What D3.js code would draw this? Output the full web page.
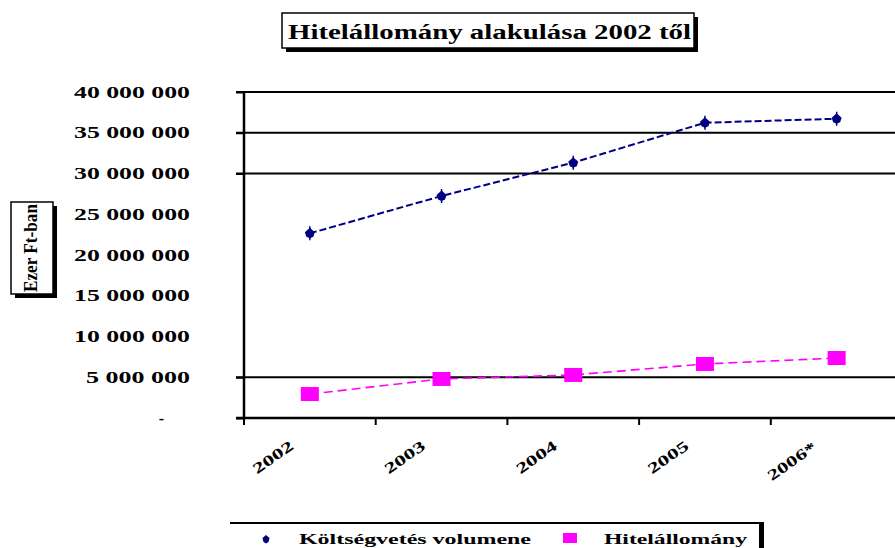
<!DOCTYPE html>
<html>
<head>
<meta charset="utf-8">
<script src="https://cdn.jsdelivr.net/npm/d3@7/dist/d3.min.js"></script>
<style>
  html, body { margin: 0; padding: 0; background: #fff; }
  svg { display: block; }
  text { font-family: "Liberation Serif", "Times New Roman", serif; font-weight: bold; fill: #000; }
</style>
</head>
<body>
<svg id="chart" width="895" height="548"></svg>
<script>
// ---- data ----
const categories = ["2002", "2003", "2004", "2005", "2006*"];
const koltsegvetes = [22660000, 27240000, 31330000, 36230000, 36720000];
const hitelallomany = [2940000, 4790000, 5280000, 6630000, 7360000];
const yTickValues = [0, 5000000, 10000000, 15000000, 20000000, 25000000, 30000000, 35000000, 40000000];
const yTickLabels = ["-", "5 000 000", "10 000 000", "15 000 000", "20 000 000", "25 000 000", "30 000 000", "35 000 000", "40 000 000"];
const gridValues = [5000000, 30000000, 35000000, 40000000];
const seriesNames = ["Költségvetés volumene", "Hitelállomány"];
const titleText = "Hitelállomány alakulása 2002 től";
const yTitle = "Ezer Ft-ban";

// ---- layout ----
const svg = d3.select("#chart");
svg.append("rect").attr("width", 895).attr("height", 548).attr("fill", "#fff");

const x = d3.scaleBand().domain(categories).range([244, 902.5]).padding(0);
const y = d3.scaleLinear().domain([0, 40000000]).range([418, 92]);

// gridlines
svg.append("g").selectAll("line").data(gridValues).join("line")
  .attr("x1", 236).attr("x2", 895)
  .attr("y1", d => y(d)).attr("y2", d => y(d))
  .attr("stroke", "#000").attr("stroke-width", 2);

// y axis line and ticks
const yAxis = d3.axisLeft(y).tickValues([0, 5000000, 30000000, 35000000, 40000000]).tickSize(8).tickFormat("");
const yg = svg.append("g").attr("transform", "translate(244,0)").call(yAxis);
yg.select(".domain").attr("stroke", "#000").attr("stroke-width", 2.5).attr("d", "M0,92V418");
yg.selectAll(".tick line").attr("stroke", "#000").attr("stroke-width", 2);

// y tick labels
svg.append("g").selectAll("text").data(yTickValues).join("text")
  .attr("x", (d, i) => i === 0 ? 164 : 190)
  .attr("y", d => y(d))
  .attr("dy", "0.35em")
  .attr("text-anchor", "end")
  .attr("font-size", 16)
  .attr("textLength", (d, i) => {
    const s = yTickLabels[i];
    if (s === "-") return null;
    const digits = s.replace(/ /g, "").length;
    const spaces = s.length - digits;
    return digits * 12 + spaces * 10;
  })
  .attr("lengthAdjust", "spacingAndGlyphs")
  .text((d, i) => yTickLabels[i]);

// x axis
const xAxis = d3.axisBottom(x).tickSize(0).tickFormat("");
const xg = svg.append("g").attr("transform", "translate(0,418)").call(xAxis);
xg.select(".domain").attr("stroke", "#000").attr("stroke-width", 2.5).attr("d", "M236,0H895");
const boundaries = categories.map(c => x(c));
svg.append("g").selectAll("line").data(boundaries).join("line")
  .attr("x1", d => d).attr("x2", d => d).attr("y1", 418).attr("y2", 425)
  .attr("stroke", "#000").attr("stroke-width", 2);

// x labels rotated
svg.append("g").selectAll("text").data(categories).join("text")
  .attr("transform", d => `translate(${x(d) + x.bandwidth() / 2 - (d.length > 4 ? 45 : 37)},${d.length > 4 ? 461 : 457}) rotate(-35)`)
  .attr("text-anchor", "middle")
  .attr("dy", "0.35em")
  .attr("font-size", 15)
  .attr("textLength", d => d.length > 4 ? 56 : 46)
  .attr("lengthAdjust", "spacingAndGlyphs")
  .text(d => d);

// lines
const cx = d => x(d) + x.bandwidth() / 2;
const blueData = categories.map((c, i) => [cx(c), y(koltsegvetes[i])]);
const pinkData = categories.map((c, i) => [cx(c), y(hitelallomany[i])]);
const line = d3.line();

svg.append("path").attr("d", line(blueData))
  .attr("fill", "none").attr("stroke", "#000080").attr("stroke-width", 2)
  .attr("stroke-dasharray", "7,3");
svg.append("path").attr("d", line(pinkData))
  .attr("fill", "none").attr("stroke", "#FF00FF").attr("stroke-width", 1.6)
  .attr("stroke-dasharray", "9,5");

// blue markers: rounded diamond blob with small stem
const blobG = svg.append("g").selectAll("g").data(blueData).join("g")
  .attr("transform", d => `translate(${d[0]},${d[1]})`);
blobG.append("path").attr("d", "M0,-5.5 L5,-1 L3.5,3.5 L0,5 L-3.5,3.5 L-5,-1 Z").attr("fill", "#000080");
blobG.append("line").attr("x1", 0).attr("x2", 0).attr("y1", -7).attr("y2", 7)
  .attr("stroke", "#000080").attr("stroke-width", 1.5);

svg.append("g").selectAll("rect").data(pinkData).join("rect")
  .attr("x", d => d[0] - 9).attr("y", d => d[1] - 7)
  .attr("width", 18).attr("height", 14)
  .attr("fill", "#FF00FF");

// title box
const tb = svg.append("g");
tb.append("rect").attr("x", 286).attr("y", 17).attr("width", 412).attr("height", 35).attr("fill", "#000");
tb.append("rect").attr("x", 282).attr("y", 13).attr("width", 412).attr("height", 35)
  .attr("fill", "#fff").attr("stroke", "#000").attr("stroke-width", 1.5);
tb.append("text").attr("x", 288).attr("y", 39).attr("font-size", 20)
  .attr("textLength", 403).attr("lengthAdjust", "spacingAndGlyphs")
  .text(titleText);

// y title box
const yb = svg.append("g");
yb.append("rect").attr("x", 15).attr("y", 206).attr("width", 42).attr("height", 92).attr("fill", "#000");
yb.append("rect").attr("x", 11).attr("y", 202).attr("width", 42).attr("height", 92)
  .attr("fill", "#fff").attr("stroke", "#000").attr("stroke-width", 1.5);
yb.append("text").attr("transform", "translate(37,248) rotate(-90)")
  .attr("text-anchor", "middle").attr("font-size", 19)
  .attr("textLength", 88).attr("lengthAdjust", "spacingAndGlyphs")
  .text(yTitle);

// legend
const lg = svg.append("g");
lg.append("line").attr("x1", 230).attr("x2", 763).attr("y1", 523).attr("y2", 523)
  .attr("stroke", "#000").attr("stroke-width", 2);
lg.append("rect").attr("x", 759).attr("y", 522).attr("width", 5).attr("height", 30).attr("fill", "#000");
lg.append("path").attr("transform", "translate(266,539)")
  .attr("d", "M0,-4 L3.5,-1 L2.5,3 L0,4.5 L-2.5,3 L-3.5,-1 Z").attr("fill", "#000080");
lg.append("rect").attr("x", 563).attr("y", 533).attr("width", 14).attr("height", 10).attr("fill", "#FF00FF");
lg.append("text").attr("x", 299).attr("y", 544).attr("font-size", 15)
  .attr("textLength", 232).attr("lengthAdjust", "spacingAndGlyphs").text(seriesNames[0]);
lg.append("text").attr("x", 604).attr("y", 544).attr("font-size", 15)
  .attr("textLength", 143).attr("lengthAdjust", "spacingAndGlyphs").text(seriesNames[1]);
</script>
</body>
</html>
